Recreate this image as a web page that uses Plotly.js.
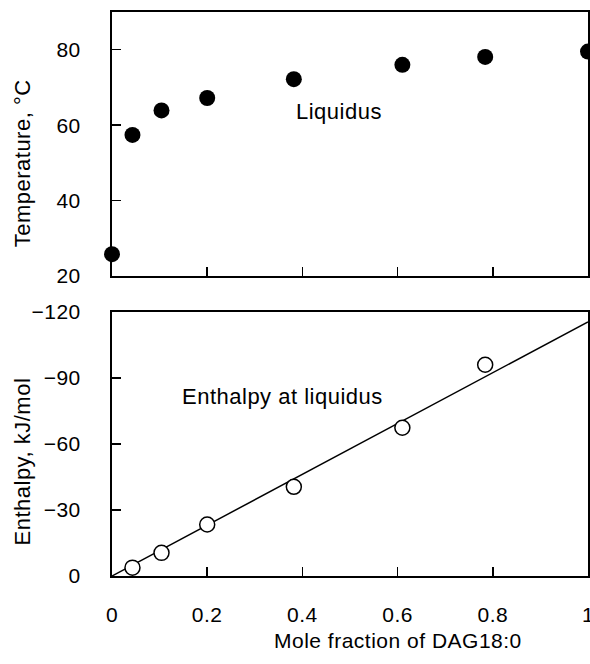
<!DOCTYPE html>
<html>
<head>
<meta charset="utf-8">
<script src="https://cdn.plot.ly/plotly-3.0.1.min.js"></script>
<style>
  html, body { margin: 0; padding: 0; background: #fff; }
  #chart { width: 590px; height: 664px; }
  #chart svg text { letter-spacing: 0.5px; }
</style>
</head>
<body>
<div id="chart"></div>
<script>
// Liquidus temperature (top panel)
const liqX = [0, 0.043, 0.104, 0.2, 0.382, 0.61, 0.784, 1.0];
const liqT = [25.8, 57.4, 63.9, 67.2, 72.2, 76.0, 78.1, 79.5];

// Enthalpy at liquidus (bottom panel)
const enthX = [0.043, 0.104, 0.2, 0.382, 0.61, 0.784];
const enthH = [-3.8, -10.5, -23.4, -40.5, -67.3, -95.9];

// Linear fit through origin
const fitX = [0, 1];
const fitH = [0, -115.4];

const xTicks = [0, 0.2, 0.4, 0.6, 0.8, 1];
const xTickText = ['0', '0.2', '0.4', '0.6', '0.8', '1'];
const tTicks = [20, 40, 60, 80];
const hTicks = [-120, -90, -60, -30, 0];

const FONT = 'Liberation Sans, Arial, sans-serif';
const fs = 21;
const fsLabel = 22;

const traces = [
  { x: liqX, y: liqT, xaxis: 'x', yaxis: 'y', mode: 'markers', type: 'scatter',
    marker: { color: '#000', size: 16 }, cliponaxis: false, showlegend: false },
  { x: fitX, y: fitH, xaxis: 'x2', yaxis: 'y2', mode: 'lines', type: 'scatter',
    line: { color: '#000', width: 1.5 }, showlegend: false },
  { x: enthX, y: enthH, xaxis: 'x2', yaxis: 'y2', mode: 'markers', type: 'scatter',
    marker: { color: '#fff', size: 15, line: { color: '#000', width: 1.5 } },
    cliponaxis: false, showlegend: false }
];

const axCommon = {
  showline: true, linecolor: '#000', linewidth: 2, mirror: true,
  showgrid: false, zeroline: false, ticks: 'inside', ticklen: 9, tickwidth: 1.5,
  tickcolor: '#000', ticklabeloverflow: 'allow',
  tickfont: { family: FONT, size: fs, color: '#000' }
};

const layout = {
  width: 590, height: 664,
  margin: { l: 112, r: 2, t: 12, b: 88 },
  paper_bgcolor: '#fff', plot_bgcolor: '#fff',
  showlegend: false,
  xaxis: Object.assign({}, axCommon, {
    domain: [0, 1], anchor: 'y', range: [0, 1], autorange: false,
    tickvals: xTicks, showticklabels: false
  }),
  yaxis: Object.assign({}, axCommon, {
    domain: [0.5319, 1], anchor: 'x', range: [20, 90], autorange: false,
    tickvals: tTicks, ticklabelstandoff: 25
  }),
  xaxis2: Object.assign({}, axCommon, {
    domain: [0, 1], anchor: 'y2', range: [0, 1], autorange: false,
    tickvals: xTicks, ticktext: xTickText, ticklabelstandoff: 19
  }),
  yaxis2: Object.assign({}, axCommon, {
    domain: [0, 0.4686], anchor: 'x2', range: [0, -120], autorange: false,
    tickvals: hTicks, ticklabelstandoff: 25
  }),
  annotations: [
    { text: 'Liquidus', xref: 'x', yref: 'y', x: 0.3875, y: 63.7,
      xanchor: 'left', yanchor: 'middle', showarrow: false,
      font: { family: FONT, size: fsLabel, color: '#000' } },
    { text: 'Enthalpy at liquidus', xref: 'x2', yref: 'y2', x: 0.153, y: -81.4,
      xanchor: 'left', yanchor: 'middle', showarrow: false,
      font: { family: FONT, size: fsLabel, color: '#000' } },
    { text: 'Temperature, °C', xref: 'paper', yref: 'paper', x: -0.187, y: 0.733,
      xanchor: 'center', yanchor: 'middle', textangle: -90, showarrow: false,
      font: { family: FONT, size: fsLabel, color: '#000' } },
    { text: 'Enthalpy, kJ/mol', xref: 'paper', yref: 'paper', x: -0.187, y: 0.203,
      xanchor: 'center', yanchor: 'middle', textangle: -90, showarrow: false,
      font: { family: FONT, size: fsLabel, color: '#000' } },
    { text: 'Mole fraction of DAG18:0', xref: 'paper', yref: 'paper', x: 0.5999, y: -0.115,
      xanchor: 'center', yanchor: 'middle', showarrow: false,
      font: { family: FONT, size: fs, color: '#000' } }
  ]
};

Plotly.newPlot('chart', traces, layout, { displayModeBar: false, staticPlot: true });
</script>
</body>
</html>
